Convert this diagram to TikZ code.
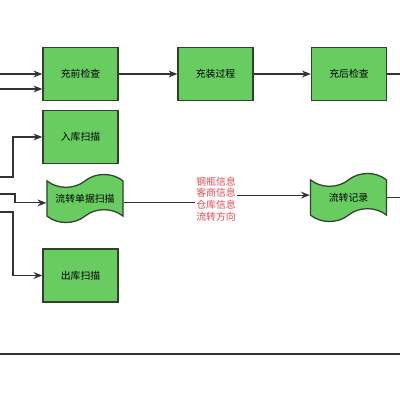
\documentclass[tikz,border=0pt]{standalone}
\usepackage{fontspec}
\newfontfamily\cjk{Noto Sans CJK SC}
\usetikzlibrary{shapes,shapes.symbols}
\usetikzlibrary{arrows.meta}
\usetikzlibrary{calc}
\usetikzlibrary{positioning}

\definecolor{boxgreen}{RGB}{104,204,96}
\definecolor{boxedge}{RGB}{48,66,44}
\definecolor{lineg}{RGB}{51,51,51}
\definecolor{infored}{RGB}{232,72,82}

\tikzset{
    stepbox/.style={rectangle,draw=boxedge,fill=boxgreen,line width=0.9pt,
        minimum width=1.875cm,minimum height=1.33cm,inner sep=0pt,
        font=\cjk\fontsize{7}{8.3}\selectfont},
    wavebox/.style={tape,draw=boxedge,fill=boxgreen,line width=0.9pt,
        tape bend top=in and out,tape bend bottom=in and out,tape bend height=0.32cm,
        minimum width=1.9cm,minimum height=1.2cm,inner sep=0pt,
        font=\cjk\fontsize{7}{8.3}\selectfont},
    flow/.style={draw=lineg,line width=0.85pt,-{Stealth[length=0.22cm,width=0.17cm]}},
    plain/.style={draw=lineg,line width=0.85pt},
    infolabel/.style={fill=white,inner sep=1pt,text=infored,align=center,
        font=\cjk\fontsize{7}{8.3}\selectfont}
}

\begin{document}
\begin{tikzpicture}[x=0.025cm,y=-0.025cm]
    \useasboundingbox (0,0) rectangle (400,400);

    % main line
    \node[stepbox] (pre) at (80.5,74) {充前检查};
    \node[stepbox] (filling) at (215.5,74) {充装过程};
    \node[stepbox] (post) at (349,74) {充后检查};

    % scans
    \node[stepbox] (instock) at (80.5,137) {入库扫描};
    \node[wavebox] (scan) at (85,198.5) {流转单据扫描};
    \node[stepbox] (outstock) at (80.5,275.5) {出库扫描};
    \node[wavebox] (record) at (348.5,197.5) {流转记录};

    \coordinate (in1) at (0,74);
    \coordinate (in2) at (0,89);
    \coordinate (in3) at (0,177);
    \coordinate (in4) at (0,194);
    \coordinate (in5) at (0,212);
    \coordinate (out1) at (400,74);
    \coordinate (out2) at (400,197);
    \coordinate (mid) at (216,199);
    \coordinate (bl) at (0,354);
    \coordinate (br) at (400,354);

    \draw[flow] (in1) -- (pre);
    \draw[flow] (in2) -- (in2 -| pre.west);
    \draw[flow] (pre) -- (filling);
    \draw[flow] (filling) -- (post);
    \draw[plain] (post) -- (out1);

    \draw[flow] (in3) -- ++(13,0) |- (instock);
    \draw[flow] (in4) -- ++(15,0) |- ([yshift=-0.11cm]scan.west);
    \draw[flow] (in5) -- ++(13,0) |- (outstock);

    \draw[flow] ([yshift=-0.11cm]scan.east) -| (mid) |- ([yshift=0.06cm]record.west);
    \node[infolabel] (info) at (mid) {钢瓶信息\\客商信息\\仓库信息\\流转方向};
    \draw[plain] (record.east) -- (out2 |- record.east);

    \draw[plain] (bl) -- (br);
\end{tikzpicture}
\end{document}
